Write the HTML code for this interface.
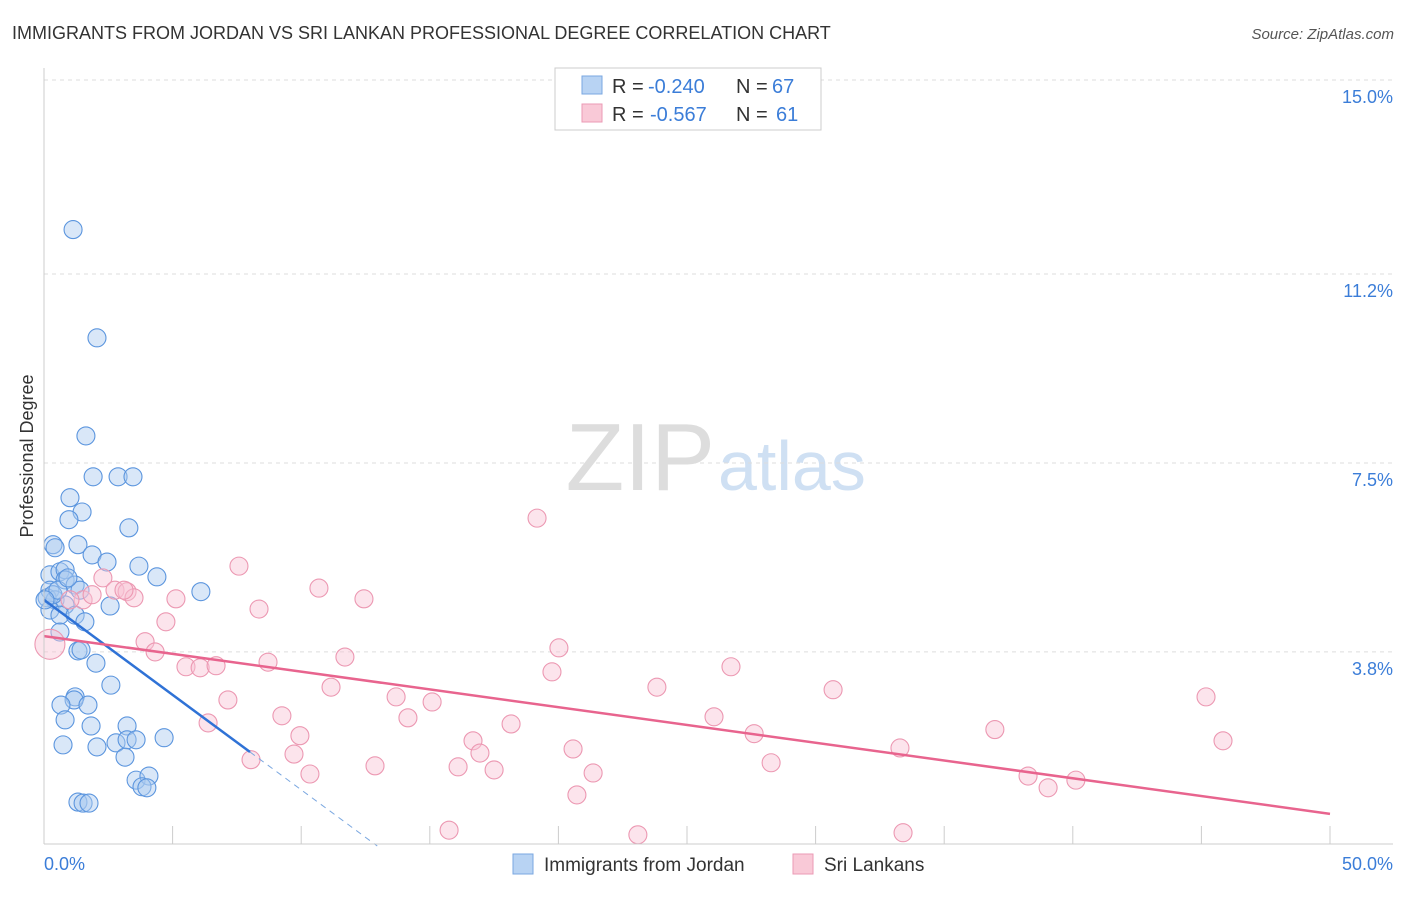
<!DOCTYPE html>
<html><head><meta charset="utf-8"><style>
body{margin:0;background:#fff;font-family:"Liberation Sans",sans-serif;}
svg text{font-family:"Liberation Sans",sans-serif;}
</style></head><body>
<svg id="c" width="1406" height="892" xmlns="http://www.w3.org/2000/svg">
<text x="12" y="39" font-size="18" fill="#333">IMMIGRANTS FROM JORDAN VS SRI LANKAN PROFESSIONAL DEGREE CORRELATION CHART</text>
<text x="1394" y="39" font-size="15" fill="#555" font-style="italic" text-anchor="end">Source: ZipAtlas.com</text>
<text x="715" y="490" font-size="96" fill="#ddd" text-anchor="end" font-family="Liberation Serif">ZIP</text>
<text x="718" y="490" font-size="70" fill="#cfe0f3">atlas</text>
<text transform="translate(33,456) rotate(-90)" font-size="18" fill="#333" text-anchor="middle">Professional Degree</text>
<g id="grid"></g><g id="pts"></g><g id="lines"></g>
<line x1="44" y1="68" x2="44" y2="844" stroke="#ccc"/>
<line x1="44" y1="844" x2="1393" y2="844" stroke="#ccc"/>
<text x="44" y="870" font-size="18" fill="#3b7dd8">0.0%</text>
<text x="1393" y="870" font-size="18" fill="#3b7dd8" text-anchor="end">50.0%</text>
<g>
<rect x="555" y="68" width="266" height="62" fill="#fff" stroke="#ccc"/>
<rect x="582" y="76" width="20" height="18" fill="#b8d3f3" stroke="#7aa7e0"/>
<rect x="582" y="104" width="20" height="18" fill="#f9c9d7" stroke="#eb9ab4"/>
<text x="612" y="93" font-size="20" fill="#333">R =</text>
<text x="648" y="93" font-size="20" fill="#3b7dd8">-0.240</text>
<text x="736" y="93" font-size="20" fill="#333">N =</text>
<text x="772" y="93" font-size="20" fill="#3b7dd8">67</text>
<text x="612" y="121" font-size="20" fill="#333">R =</text>
<text x="650" y="121" font-size="20" fill="#3b7dd8">-0.567</text>
<text x="736" y="121" font-size="20" fill="#333">N =</text>
<text x="776" y="121" font-size="20" fill="#3b7dd8">61</text>
</g>
<g>
<rect x="513" y="854" width="20" height="20" fill="#b8d3f3" stroke="#7aa7e0"/>
<text x="544" y="871" font-size="19" fill="#333">Immigrants from Jordan</text>
<rect x="793" y="854" width="20" height="20" fill="#f9c9d7" stroke="#eb9ab4"/>
<text x="824" y="871" font-size="19" fill="#333">Sri Lankans</text>
</g>
</svg>
<script>
const yTicks=[3.8,7.5,11.2,15.0];
const xTicks=[5,10,15,20,25,30,35,40,45,50];
const blueX=[1.13,2.06,1.63,1.91,2.88,3.46,1.01,1.48,0.97,3.30,0.35,0.43,1.32,1.87,2.45,3.69,4.39,6.10,0.23,0.62,0.82,0.82,1.21,1.40,0.23,0.12,0.43,0.82,0.23,0.62,1.21,1.59,2.57,0.62,1.32,1.44,2.02,2.60,1.21,1.17,0.66,1.71,0.82,1.83,3.23,0.74,2.06,2.80,3.23,3.58,4.67,3.15,3.58,4.08,3.81,4.00,1.32,1.52,1.75,0.35,0.54,0.04,0.93];
const blueY=[12.07,9.95,8.03,7.23,7.23,7.23,6.82,6.54,6.39,6.23,5.90,5.84,5.90,5.70,5.56,5.48,5.27,4.98,5.31,5.37,5.41,5.21,5.11,5.01,5.01,4.86,4.82,4.72,4.62,4.52,4.52,4.39,4.70,4.19,3.82,3.84,3.58,3.15,2.92,2.86,2.76,2.76,2.47,2.35,2.35,1.98,1.94,2.02,2.08,2.08,2.12,1.74,1.29,1.37,1.16,1.14,0.86,0.84,0.84,4.92,5.01,4.82,5.25];
const pinkX=[19.17,7.58,10.69,12.44,8.36,4.74,3.93,4.32,5.52,6.07,6.69,8.71,11.70,20.02,19.75,26.71,23.83,11.16,13.69,15.09,7.15,9.25,14.15,6.38,18.16,26.05,27.61,30.68,45.18,36.97,45.84,9.95,16.68,9.72,16.95,20.57,33.28,8.05,12.87,16.10,17.50,28.27,10.34,21.35,38.26,40.12,39.04,20.72,15.75,23.09,33.40,2.29,2.76,3.23,3.50,1.52,1.87,1.01,0.23,5.13,3.11];
const pinkY=[6.42,5.48,5.05,4.84,4.64,4.39,4.00,3.80,3.51,3.49,3.53,3.60,3.70,3.88,3.41,3.51,3.11,3.11,2.92,2.82,2.86,2.55,2.51,2.41,2.39,2.53,2.20,3.06,2.92,2.28,2.06,2.16,2.06,1.80,1.82,1.90,1.92,1.69,1.57,1.55,1.49,1.63,1.41,1.43,1.37,1.29,1.14,1.00,0.31,0.22,0.26,5.25,5.01,4.98,4.86,4.82,4.92,4.82,3.95,4.84,5.01];
const blueTrend=[4.82,-0.372];
const pinkTrend=[4.11,-0.0696];
const X=v=>44+v*25.72, Y=v=>846-v*51.07;
const NS="http://www.w3.org/2000/svg";
function mk(t,a,p){const e=document.createElementNS(NS,t);for(const k in a)e.setAttribute(k,a[k]);document.getElementById(p).appendChild(e);return e;}
yTicks.forEach(t=>{
 const l=mk('line',{x1:44,x2:1393,y1:Y(t),y2:Y(t),stroke:'#ddd','stroke-dasharray':'4,4'},'grid');
 
 
 const tx=mk('text',{x:1393,y:Y(t)+23,'font-size':18,fill:'#3b7dd8','text-anchor':'end'},'grid');
 tx.textContent=t.toFixed(1)+'%';
 
 
});
xTicks.forEach(t=>{
 const l=mk('line',{x1:X(t),x2:X(t),y1:826,y2:844,stroke:'#ccc'},'grid');
 
 
});
blueX.forEach((x,i)=>{
 const c=mk('circle',{cx:X(x),cy:Y(blueY[i]),r:9,fill:'rgba(170,202,240,0.45)',stroke:'#5b95de','stroke-width':1.1},'pts');
 
 
});
pinkX.forEach((x,i)=>{
 const c=mk('circle',{cx:X(x),cy:Y(pinkY[i]),r:i==58?15:9,fill:'rgba(248,196,212,0.45)',stroke:'#ec98b2','stroke-width':1.1},'pts');
 
 
});
const bEnd=8.01, bZero=-blueTrend[0]/blueTrend[1];
let l=mk('line',{x1:X(0),y1:Y(blueTrend[0]),x2:X(bEnd),y2:Y(blueTrend[0]+blueTrend[1]*bEnd),stroke:'#2f72d6','stroke-width':2.5},'lines');


l=mk('line',{x1:X(bEnd),y1:Y(blueTrend[0]+blueTrend[1]*bEnd),x2:X(bZero),y2:Y(0),stroke:'#7aa7e0','stroke-width':1,'stroke-dasharray':'6,5'},'lines');


l=mk('line',{x1:X(0),y1:Y(pinkTrend[0]),x2:X(50),y2:Y(pinkTrend[0]+pinkTrend[1]*50),stroke:'#e8648e','stroke-width':2.5},'lines');


</script>
</body></html>
